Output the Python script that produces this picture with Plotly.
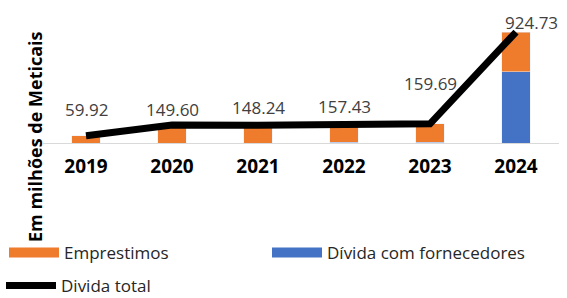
import plotly.graph_objects as go

years = ["2019", "2020", "2021", "2022", "2023", "2024"]
emprestimos = [59.92, 149.60, 148.24, 152.43, 154.69, 330.73]
fornecedores = [0.0, 0.0, 0.0, 5.0, 5.0, 594.0]
divida_total = [59.92, 149.60, 148.24, 157.43, 159.69, 924.73]
label_texts = ["59.92", "149.60", "148.24", "157.43", "159.69", "924.73"]
label_dy = [26, 16, 18, 18, 40, 10]
label_dx = [0, 0, 0, 0, 0, 15]

ORANGE = "#EF7B2D"
BLUE = "#4472C4"
FONT = "Open Sans"

fig = go.Figure()
fig.add_trace(go.Bar(x=years, y=fornecedores, marker=dict(color=BLUE),
                     showlegend=False, hoverinfo="skip"))
fig.add_trace(go.Bar(x=years, y=emprestimos, marker=dict(color=ORANGE),
                     showlegend=False, hoverinfo="skip"))
fig.add_trace(go.Scatter(x=years, y=divida_total, mode="lines",
                         line=dict(color="black", width=7), showlegend=False))

# legend entries (on separate hidden axes), one legend box each
for nm, col, w, lg in [("Emprestimos", ORANGE, 10, "legend"),
                       ("Dívida com fornecedores", BLUE, 10, "legend2"),
                       ("Divida total", "black", 7, "legend3")]:
    fig.add_trace(go.Scatter(x=[None], y=[None], mode="lines", name=nm, legend=lg,
                             line=dict(color=col, width=w), xaxis="x2", yaxis="y2"))

# data labels: x given as category index on the category axis
for i, (v, t, dy, dx) in enumerate(zip(divida_total, label_texts, label_dy, label_dx)):
    fig.add_annotation(x=i, y=v, text=t, showarrow=False, xref="x", yref="y",
                       yshift=dy, xshift=dx, yanchor="middle",
                       font=dict(family=FONT, size=17, color="#404040"))

fig.add_annotation(text="<b>Em milhões de Meticais</b>", textangle=-90,
                   xref="paper", yref="paper", x=(35 - 43) / 516, y=(143 - 137) / 123,
                   xanchor="center", yanchor="middle", showarrow=False,
                   font=dict(family=FONT, size=18, color="black"))

legend_common = dict(orientation="h", xref="container", yref="container",
                     xanchor="left", yanchor="middle", itemwidth=50,
                     bgcolor="rgba(0,0,0,0)",
                     font=dict(family=FONT, size=17, color="#262626"))

fig.update_layout(
    width=567, height=298,
    margin=dict(l=43, r=8, t=20, b=155, autoexpand=False),
    barmode="stack", bargap=0.67,
    plot_bgcolor="white", paper_bgcolor="white",
    font=dict(family=FONT, color="#262626"),
    xaxis=dict(type="category", categoryorder="array", categoryarray=years,
               range=[-0.5, 5.5], autorange=False,
               showgrid=False, showline=True, linecolor="#D9D9D9", linewidth=1,
               ticks="outside", ticklen=6, tickcolor="rgba(0,0,0,0)",
               tickfont=dict(family=FONT, size=19, color="black", weight="bold")),
    yaxis=dict(range=[0, 1025], visible=False, showgrid=False, zeroline=False),
    xaxis2=dict(overlaying="x", visible=False, range=[0, 1]),
    yaxis2=dict(overlaying="y", visible=False, range=[0, 1]),
    legend=dict(legend_common, x=4 / 567, y=(298 - 253) / 298),
    legend2=dict(legend_common, x=267 / 567, y=(298 - 253) / 298),
    legend3=dict(legend_common, x=1 / 567, y=(298 - 286) / 298),
)

fig.write_html("out.html", config={"displayModeBar": False},
               post_script="document.body.style.margin='0px';")
